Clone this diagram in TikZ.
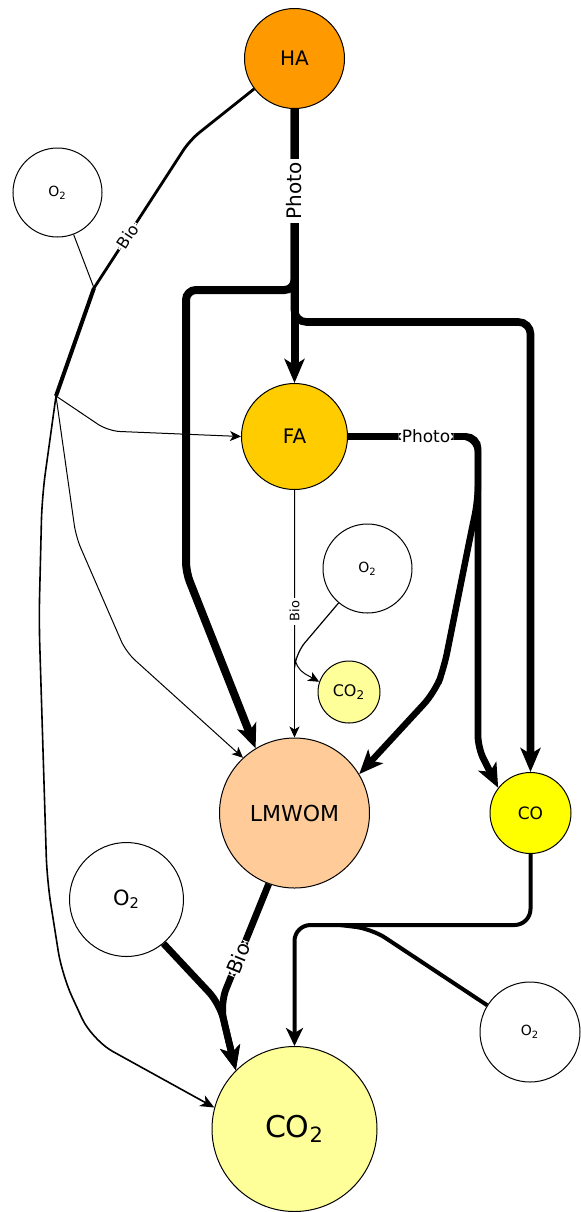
\documentclass[tikz,border=0pt]{standalone}
\usepackage{fontspec}
\setmainfont{DejaVu Sans}
\usetikzlibrary{arrows.meta}
\definecolor{haC}{HTML}{FF9900}
\definecolor{faC}{HTML}{FFCC00}
\definecolor{lmC}{HTML}{FFCC99}
\definecolor{coC}{HTML}{FFFF00}
\definecolor{cotC}{HTML}{FFFF99}
\newcommand\fsz[1]{\fontsize{#1}{#1}\selectfont}
\begin{document}
\begin{tikzpicture}[x=0.5pt,y=-0.5pt,
  st/.style={circle,draw=black,line width=0.5pt,inner sep=0pt},
  lab/.style={fill=white,inner xsep=1.6pt,inner ysep=0.6pt},
  bigtip/.style={-{Stealth[length=12pt,width=10pt,inset=3pt]}},
  medtip/.style={-{Stealth[length=9pt,width=8.5pt,inset=2.5pt]}},
  smltip/.style={-{Stealth[length=7pt,width=6pt,inset=2pt]}},
  thintip/.style={-{Stealth[length=5.5pt,width=5pt,inset=1.5pt]}}]
\useasboundingbox (0,0) rectangle (580,1212);

% nodes
\node[st,fill=haC,minimum size=50pt,font=\fsz{10}] (HA) at (294.5,58.5) {HA};
\node[st,fill=white,minimum size=44.5pt,font=\fsz{7}] (O2a) at (57.5,192.5) {O\textsubscript{2}};
\node[st,fill=faC,minimum size=53pt,font=\fsz{10}] (FA) at (294.5,436.5) {FA};
\node[st,fill=white,minimum size=44.5pt,font=\fsz{7}] (O2b) at (367.5,568.5) {O\textsubscript{2}};
\node[st,fill=cotC,minimum size=31pt,font=\fsz{8}] (CO2s) at (349,692) {CO\textsubscript{2}};
\node[st,fill=lmC,minimum size=75pt,font=\fsz{11}] (LMWOM) at (294.5,813) {LMWOM};
\node[st,fill=coC,minimum size=40.5pt,font=\fsz{8.5}] (CO) at (530.5,813) {CO};
\node[st,fill=white,minimum size=57pt,font=\fsz{10.5}] (O2c) at (126.5,899.5) {O\textsubscript{2}};
\node[st,fill=cotC,minimum size=82.5pt,font=\fsz{15}] (CO2) at (294.5,1129) {CO\textsubscript{2}};
\node[st,fill=white,minimum size=50pt,font=\fsz{7}] (O2d) at (530,1032) {O\textsubscript{2}};

% HA photo
\draw[line width=4pt,rounded corners=5pt,bigtip] (HA.south) -- (294.5,290) -- (186,290) -- (186,572) -- (LMWOM.121);
\draw[line width=3.8pt,rounded corners=6pt,bigtip] (HA.south) -- (294.5,322) -- (530.5,322) -- (CO.north);
\draw[line width=4pt,bigtip] (HA.south) -- (FA.north) node[lab,pos=0.3,rotate=90,font=\fsz{10}] {Photo};

% HA bio
\coordinate (J1) at (94,288);
\coordinate (J2) at (56,396);
\draw[line width=0.5pt] (O2a.291) -- (J1);
\draw[line width=1.4pt,rounded corners=6pt] (HA.217) -- (190,140) -- (J1) node[lab,pos=0.65,sloped,font=\fsz{8}] {Bio};
\draw[line width=2pt] (J1) -- (J2);
\draw[line width=0.5pt,rounded corners=6pt,thintip] (J2) -- (108,431) -- (FA.west);
\draw[line width=0.5pt,rounded corners=6pt,thintip] (J2) -- (76,537) -- (126,652) -- (LMWOM.133);
\draw[line width=0.8pt,rounded corners=12pt,smltip] (J2) -- (42,497) -- (39,620) -- (47,880) -- (62,975) -- (92,1040) -- (CO2.165);

% FA photo
\draw[line width=3.2pt,rounded corners=8pt,bigtip] (FA.east) -- (478,436.5) -- (478,500) -- (472,528) -- (444,668) -- (435,692) -- (LMWOM.31);
\draw[line width=3.4pt,rounded corners=6pt,bigtip] (FA.east) -- (478,436.5) node[lab,pos=0.6,font=\fsz{8.5}] {Photo} -- (478,748) -- (CO.142);

% FA bio
\draw[line width=0.6pt,rounded corners=6pt] (O2b.230) -- (297,652) -- (294.5,668);
\draw[line width=0.5pt,rounded corners=6pt,thintip] (FA.south) -- (294.5,668) -- (CO2s.161);
\draw[line width=0.5pt,thintip] (FA.south) -- (LMWOM.north) node[lab,pos=0.49,rotate=90,font=\fsz{6.5}] {Bio};

% LMWOM bio
\coordinate (J5) at (220,1004);
\draw[line width=3.4pt,rounded corners=8pt,bigtip] (O2c.310) -- (J5) -- (226,1030) -- (CO2.135);
\draw[line width=3.4pt,rounded corners=8pt,bigtip] (LMWOM.250) -- (J5) node[lab,pos=0.62,sloped,font=\fsz{10}] {Bio} -- (226,1030) -- (CO2.135);

% CO
\draw[line width=2pt,rounded corners=8pt] (O2d.148) -- (372,929) -- (340,925);
\draw[line width=2pt,rounded corners=8pt,medtip] (CO.south) -- (530.5,925) -- (294.5,925) -- (CO2.north);
\end{tikzpicture}
\end{document}
